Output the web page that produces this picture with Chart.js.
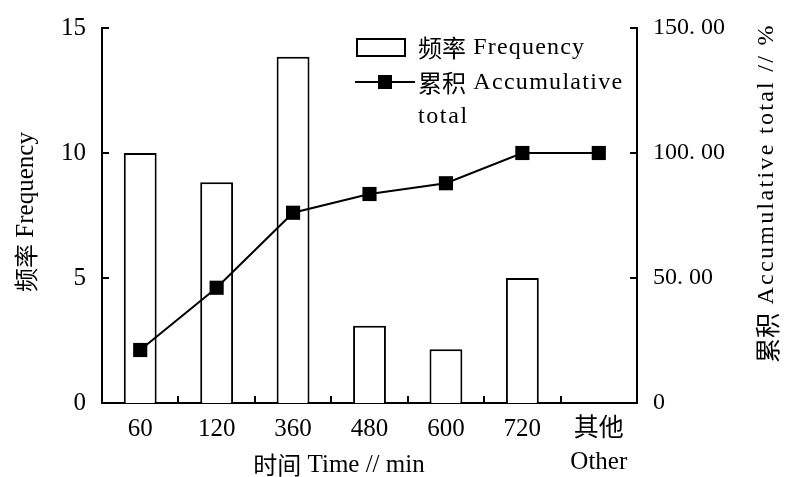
<!DOCTYPE html>
<html>
<head>
<meta charset="utf-8">
<script src="https://cdn.jsdelivr.net/npm/chart.js@4"></script>
<style>
  html, body { margin: 0; padding: 0; background: #fff; }
  #chart { display: block; }
</style>
</head>
<body>
<canvas id="chart" width="786" height="477"></canvas>
<script>
// chart data
const categories = ['60', '120', '360', '480', '600', '720', ['其他', 'Other']];
const frequency = [10, 8.83, 13.85, 3.09, 2.15, 5, null];
const cumulative = [21.2, 46.1, 76.1, 83.6, 87.9, 100, 100];
const freqRange = [0, 15, 5];          // min, max, step
const cumRange = [0, 150, 50];
const cumTickLabels = ['0', '50. 00', '100. 00', '150. 00'];

const SERIF = "'Liberation Serif', 'Noto Sans CJK SC', serif";
const CJK = "'Noto Sans CJK SC', sans-serif";

// draw text made of pieces in different fonts, left aligned
// piece = [text, font, letterSpacing]
function drawParts(ctx, parts, x, y) {
    let cx = x;
    parts.forEach(p => {
        ctx.font = p[1];
        ctx.letterSpacing = p[2] || '0px';
        ctx.fillText(p[0], cx, y);
        cx += ctx.measureText(p[0]).width;
    });
    ctx.letterSpacing = '0px';
}
function partsWidth(ctx, parts) {
    let w = 0;
    parts.forEach(p => {
        ctx.font = p[1];
        ctx.letterSpacing = p[2] || '0px';
        w += ctx.measureText(p[0]).width;
    });
    ctx.letterSpacing = '0px';
    return w;
}

// titles, legend and inward tick marks
const decor = {
    id: 'decor',
    afterDraw(chart) {
        const { ctx, chartArea: a } = chart;
        const x = chart.scales.x, y = chart.scales.y, y1 = chart.scales.y1;
        ctx.save();
        ctx.strokeStyle = '#000';
        ctx.fillStyle = '#000';
        ctx.lineWidth = 2;

        ctx.beginPath();
        for (let i = 0; i < x.ticks.length - 1; i++) {
            const px = Math.round((x.getPixelForTick(i) + x.getPixelForTick(i + 1)) / 2);
            ctx.moveTo(px, a.bottom);
            ctx.lineTo(px, a.bottom - 7);
        }
        y.ticks.forEach(t => {
            if (t.value > 0) {
                const py = Math.round(y.getPixelForValue(t.value));
                ctx.moveTo(a.left, py);
                ctx.lineTo(a.left + 7, py);
            }
        });
        y1.ticks.forEach(t => {
            if (t.value > 0) {
                const py = Math.round(y1.getPixelForValue(t.value));
                ctx.moveTo(a.right, py);
                ctx.lineTo(a.right - 7, py);
            }
        });
        ctx.stroke();

        ctx.textBaseline = 'middle';
        ctx.textAlign = 'left';

        // left title
        let parts = [['频率', '24px ' + CJK], [' Frequency', '25px ' + SERIF]];
        ctx.save();
        ctx.translate(26, 212);
        ctx.rotate(-Math.PI / 2);
        drawParts(ctx, parts, -partsWidth(ctx, parts) / 2, 0);
        ctx.restore();

        // right title
        parts = [['累积', '25px ' + CJK], [' Accumulative total // %', '24px ' + SERIF, '2.3px']];
        ctx.save();
        ctx.translate(767, 193);
        ctx.rotate(-Math.PI / 2);
        drawParts(ctx, parts, -partsWidth(ctx, parts) / 2, 0);
        ctx.restore();

        // bottom title
        parts = [['时间', '24px ' + CJK], [' Time // min', '25px ' + SERIF]];
        drawParts(ctx, parts, 339 - partsWidth(ctx, parts) / 2, 465);

        // legend
        ctx.strokeRect(357, 39, 48, 17);
        drawParts(ctx, [['频率', '24px ' + CJK], [' Frequency', '24px ' + SERIF, '1.2px']], 418, 48);
        ctx.beginPath();
        ctx.moveTo(355, 82);
        ctx.lineTo(415, 82);
        ctx.stroke();
        ctx.fillRect(378, 75, 14, 14);
        drawParts(ctx, [['累积', '24px ' + CJK], [' Accumulative', '24px ' + SERIF, '1.3px']], 418, 83);
        drawParts(ctx, [['total', '24px ' + SERIF, '1.6px']], 418, 117);
        ctx.restore();
    }
};

const ctx = document.getElementById('chart').getContext('2d');
new Chart(ctx, {
    data: {
        labels: categories,
        datasets: [{
            type: 'line',
            label: '累积 Accumulative total',
            data: cumulative,
            yAxisID: 'y1',
            borderColor: '#000',
            borderWidth: 2,
            pointStyle: 'rect',
            pointRadius: 10,
            pointBackgroundColor: '#000',
            pointBorderWidth: 0,
            tension: 0,
            fill: false,
            order: 0
        }, {
            type: 'bar',
            label: '频率 Frequency',
            data: frequency,
            yAxisID: 'y',
            backgroundColor: '#fff',
            borderColor: '#000',
            borderWidth: 2,
            barPercentage: 0.43,
            categoryPercentage: 1,
            order: 1
        }]
    },
    options: {
        responsive: false,
        animation: false,
        devicePixelRatio: 1,
        layout: { padding: { top: 28, left: 0, right: 0, bottom: 0 } },
        plugins: {
            legend: { display: false },
            tooltip: { enabled: false }
        },
        scales: {
            x: {
                offset: true,
                grid: { display: false },
                border: { display: true, color: '#000', width: 2 },
                ticks: {
                    color: '#000',
                    padding: 2,
                    maxRotation: 0,
                    autoSkip: false,
                    font: { family: SERIF, size: 25, lineHeight: 1.32 }
                },
                afterFit: s => { s.height = 74; }
            },
            y: {
                position: 'left',
                min: freqRange[0],
                max: freqRange[1],
                grid: { display: false },
                border: { display: true, color: '#000', width: 2 },
                ticks: {
                    stepSize: freqRange[2],
                    color: '#000',
                    padding: 8,
                    font: { family: SERIF, size: 25 }
                },
                afterFit: s => { s.width = 102; }
            },
            y1: {
                position: 'right',
                min: cumRange[0],
                max: cumRange[1],
                grid: { display: false },
                border: { display: true, color: '#000', width: 2 },
                ticks: {
                    stepSize: cumRange[2],
                    color: '#000',
                    padding: 8,
                    font: { family: SERIF, size: 24 },
                    callback: (v, i) => cumTickLabels[i]
                },
                afterFit: s => { s.width = 149; }
            }
        }
    },
    plugins: [decor]
});
</script>
</body>
</html>
